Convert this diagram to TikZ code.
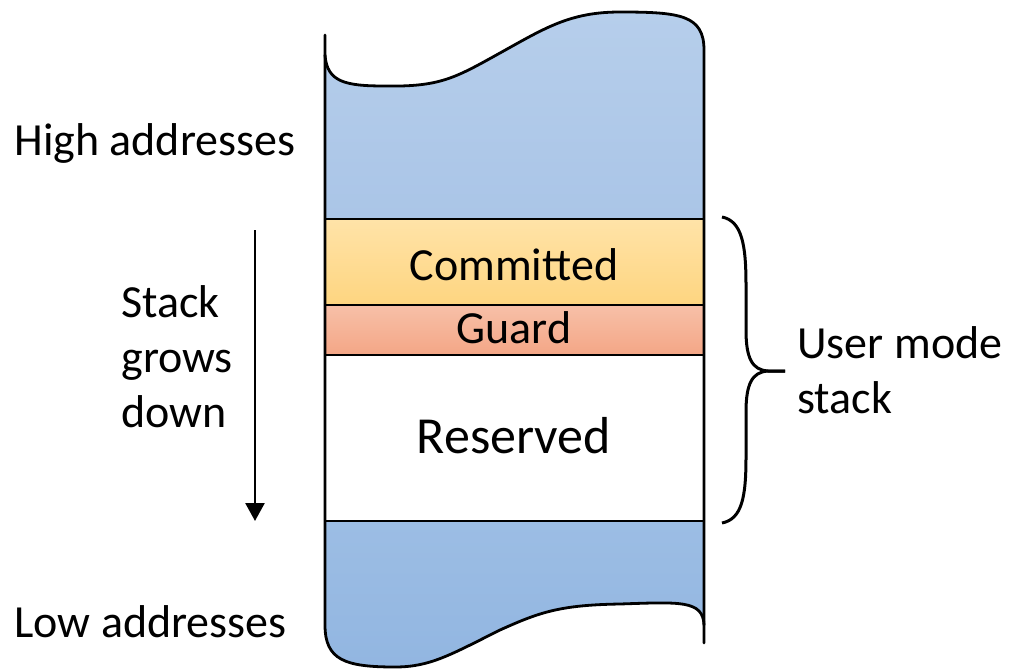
\documentclass[tikz,border=0pt]{standalone}
\usepackage{fontspec}
\setmainfont{Carlito}
\usetikzlibrary{arrows.meta}

\definecolor{hiA}{RGB}{182,206,235}
\definecolor{hiB}{RGB}{170,197,231}
\definecolor{loA}{RGB}{156,189,228}
\definecolor{loB}{RGB}{146,182,225}
\definecolor{cmA}{RGB}{255,227,168}
\definecolor{cmB}{RGB}{254,213,128}
\definecolor{gdA}{RGB}{247,192,168}
\definecolor{gdB}{RGB}{244,166,134}

\begin{document}
\begin{tikzpicture}[x=0.5pt,y=-0.5pt,
  outline/.style={line width=1.4pt, line join=round, line cap=round},
  band/.style={draw=black, line width=1pt},
  lbl/.style={inner sep=0pt, font=\fontsize{23}{27.5}\selectfont},
  bigLbl/.style={inner sep=0pt, font=\fontsize{26}{30}\selectfont},
  growArrow/.style={line width=1.3pt, -{Triangle[length=9pt,width=9.5pt]}},
  braceLine/.style={line width=1.5pt, line join=round},
]
\useasboundingbox (0,0) rectangle (1012,669);

% upper (high address) region with its wavy torn edge
\shade[top color=hiA, bottom color=hiB]
  (325,219) -- (325,55)
  .. controls (327,82) and (345,86) .. (385,86)
  .. controls (440,87) and (455,78) .. (500,53)
  .. controls (545,28) and (570,12) .. (620,12)
  .. controls (680,12) and (704,15) .. (704,50)
  -- (704,219) -- cycle;

% stack bands
\shade[top color=cmA, bottom color=cmB] (325,219) rectangle (704,305);
\shade[top color=gdA, bottom color=gdB] (325,305) rectangle (704,355);
\fill[white] (325,355) rectangle (704,521);

% lower (low address) region with its wavy torn edge
\shade[top color=loA, bottom color=loB]
  (325,521) -- (325,625)
  .. controls (325,660) and (345,667) .. (395,667)
  .. controls (430,667) and (450,655) .. (500,630)
  .. controls (540,612) and (560,605) .. (620,604)
  .. controls (680,602) and (703,600) .. (704,625)
  -- (704,521) -- cycle;

% band boundaries
\draw[band] (325,219) -- (704,219);
\draw[band] (325,305) -- (704,305);
\draw[band] (325,355) -- (704,355);
\draw[band] (325,521) -- (704,521);

% column outline
\draw[outline] (325,35) -- (325,625)
  .. controls (325,660) and (345,667) .. (395,667)
  .. controls (430,667) and (450,655) .. (500,630)
  .. controls (540,612) and (560,605) .. (620,604)
  .. controls (680,602) and (703,600) .. (704,625);
\draw[outline] (325,55)
  .. controls (327,82) and (345,86) .. (385,86)
  .. controls (440,87) and (455,78) .. (500,53)
  .. controls (545,28) and (570,12) .. (620,12)
  .. controls (680,12) and (704,15) .. (704,50)
  -- (704,643);

% labels inside the column
\node[lbl, anchor=base] (committed) at (514,280) {Committed};
\node[lbl, anchor=base] (guard) at (514,343) {Guard};
\node[bigLbl, anchor=base] (reserved) at (514,453) {Reserved};

% address labels
\node[lbl, anchor=base west] (high) at (14,155) {High addresses};
\node[lbl, anchor=base west] (low) at (14,637) {Low addresses};

% growth direction (base anchor sits on the last line)
\node[lbl, anchor=base west, align=left] (grows) at (121,427) {Stack\\grows\\down};
\coordinate (growTop) at (255,230);
\coordinate (growEnd) at (255,521);
\draw[growArrow] (growTop) -- (growEnd);

% brace marking the user mode stack
\coordinate (braceTop) at (722,217);
\coordinate (braceBot) at (722,523);
\coordinate (braceTip) at (785,371);
\draw[braceLine] (braceTop)
  .. controls (742,221) and (746,245) .. (746,285) -- (746,330)
  .. controls (746,358) and (752,370) .. (768,371) -- (braceTip);
\draw[braceLine] (braceBot)
  .. controls (742,519) and (746,497) .. (746,457) -- (746,412)
  .. controls (746,384) and (752,372) .. (768,371) -- (braceTip);
\node[lbl, anchor=base west, align=left] (ums) at (797,413) {User mode\\stack};
\end{tikzpicture}
\end{document}
